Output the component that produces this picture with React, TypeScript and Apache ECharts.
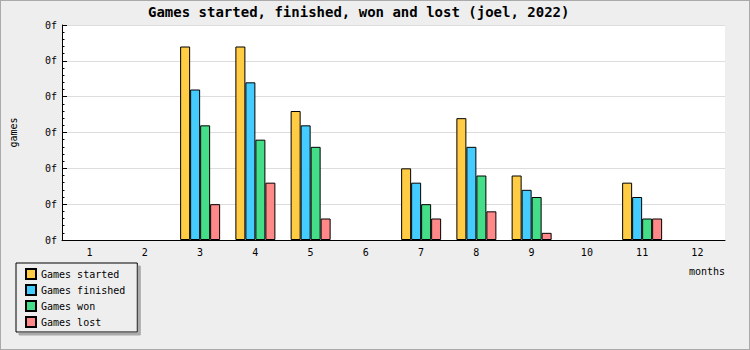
import React, { useEffect, useRef } from "react";
import * as echarts from "echarts";

const titleText = "Games started, finished, won and lost (joel, 2022)";
const months = ["1", "2", "3", "4", "5", "6", "7", "8", "9", "10", "11", "12"];
const started = [0, 0, 27, 27, 18, 0, 10, 17, 9, 0, 8, 0];
const finished = [0, 0, 21, 22, 16, 0, 8, 13, 7, 0, 6, 0];
const won = [0, 0, 16, 14, 13, 0, 5, 9, 6, 0, 3, 0];
const lost = [0, 0, 5, 8, 3, 0, 3, 4, 1, 0, 3, 0];
const yTickLabels = ["0f", "0f", "0f", "0f", "0f", "0f", "0f"];
const seriesNames = ["Games started", "Games finished", "Games won", "Games lost"];
const seriesColors = ["#ffcc44", "#44ccff", "#44dd88", "#ff8888"];

const FONT = "DejaVu Sans Mono";

export default function App() {
  const ref = useRef<HTMLDivElement>(null);
  useEffect(() => {
    document.body.style.margin = "0";
    const chart = echarts.init(ref.current!, null, { renderer: "svg" });
    const data = [started, finished, won, lost];
    chart.setOption({
      animation: false,
      backgroundColor: "transparent",
      title: {
        text: titleText,
        left: 143,
        top: 0,
        textStyle: { fontFamily: FONT, fontSize: 14, fontWeight: "bold", color: "#000" },
      },
      grid: {
        left: 60,
        top: 25,
        width: 665,
        height: 215,
        show: true,
        backgroundColor: "#ffffff",
        borderWidth: 0,
      },
      legend: {
        orient: "vertical",
        left: 16,
        top: 263,
        padding: [5, 12, 4, 9],
        itemWidth: 10,
        itemHeight: 10,
        itemGap: 4,
        icon: "rect",
        backgroundColor: "#eeeeee",
        borderColor: "#000",
        borderWidth: 1,
        shadowColor: "#aaaaaa",
        shadowBlur: 0,
        shadowOffsetX: 3,
        shadowOffsetY: 3,
        textStyle: { fontFamily: FONT, fontSize: 10, color: "#000" },
        data: seriesNames,
      },
      xAxis: {
        type: "category",
        data: months,
        boundaryGap: true,
        axisLine: { lineStyle: { color: "#000", width: 1 } },
        axisTick: { inside: true, length: 5, lineStyle: { color: "#000" } },
        axisLabel: { fontFamily: FONT, fontSize: 10, color: "#000", margin: 7 },
        splitLine: { show: false },
      },
      yAxis: {
        type: "value",
        min: 0,
        max: 30,
        interval: 5,
        name: "games",
        nameLocation: "middle",
        nameGap: 44,
        nameTextStyle: { fontFamily: FONT, fontSize: 10, color: "#000" },
        axisLine: { show: true, lineStyle: { color: "#000", width: 1 } },
        axisTick: { show: true, inside: true, length: 5, lineStyle: { color: "#000" } },
        minorTick: { show: true, splitNumber: 5, length: 2.5, lineStyle: { color: "#000" } },
        axisLabel: {
          fontFamily: FONT,
          fontSize: 10,
          color: "#000",
          margin: 5,
          formatter: (_v: number, i: number) => yTickLabels[i],
        },
        splitLine: { show: true, lineStyle: { color: "#dddddd", width: 1 } },
      },
      graphic: [
        {
          type: "text",
          x: 725,
          y: 266,
          style: { text: "months", fontFamily: FONT, fontSize: 10, fill: "#000", align: "right" },
        },
      ],
      series: seriesNames.map((name, k) => ({
        name,
        type: "bar",
        data: data[k].map((v) => (v === 0 ? null : v)),
        barWidth: 10,
        barGap: "0%",
        itemStyle: { color: seriesColors[k], borderColor: "#000", borderWidth: 1 },
      })),
    });
    return () => chart.dispose();
  }, []);
  return (
    <div
      style={{
        position: "absolute",
        left: 0,
        top: 0,
        width: 750,
        height: 350,
        boxSizing: "border-box",
        border: "1px solid #aaaaaa",
        background: "#eeeeee",
        overflow: "hidden",
      }}
    >
      <div ref={ref} style={{ width: 727, height: 350, position: "absolute", left: -1, top: -1 }} />
    </div>
  );
}
